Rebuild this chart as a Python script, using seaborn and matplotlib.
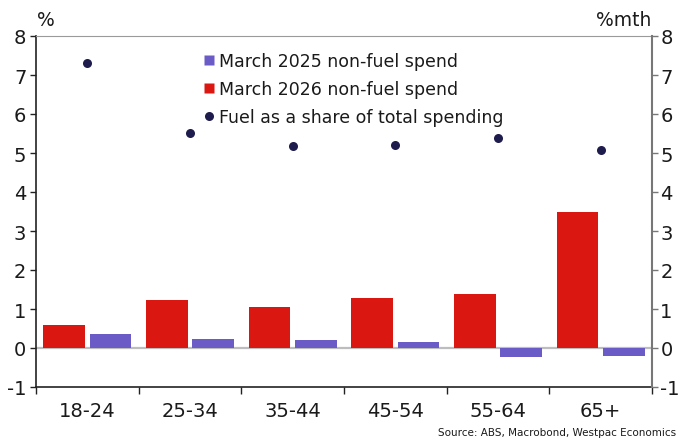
import matplotlib
matplotlib.use("Agg")
import matplotlib.pyplot as plt
from matplotlib.lines import Line2D
import seaborn as sns
import pandas as pd
import numpy as np

# Age groups and series values
age_groups = ["18-24", "25-34", "35-44", "45-54", "55-64", "65+"]
spend_2025 = [0.35, 0.23, 0.20, 0.16, -0.23, -0.21]
spend_2026 = [0.58, 1.23, 1.04, 1.29, 1.39, 3.49]
fuel_share = [7.31, 5.51, 5.19, 5.21, 5.38, 5.08]

label_2025 = "March 2025 non-fuel spend"
label_2026 = "March 2026 non-fuel spend"
label_fuel = "Fuel as a share of total spending"

y_ticks = list(range(-1, 9))

RED = "#DA1710"
PURPLE = "#6A5BC6"
NAVY = "#1E1B4D"

sns.set_theme(style="white")
plt.rcParams["font.family"] = ["DejaVu Sans"]

bars = pd.DataFrame({
    "age": age_groups * 2,
    "value": spend_2026 + spend_2025,
    "series": [label_2026] * len(age_groups) + [label_2025] * len(age_groups),
})

fig = plt.figure(figsize=(6.81, 4.39), dpi=100)
ax = fig.add_axes([36 / 681, 1 - 388 / 439, (652 - 36) / 681, (388 - 37) / 439])

ax.axhline(0, color="#bdbdbd", lw=1.6, zorder=0)

sns.barplot(data=bars, x="age", y="value", hue="series",
            hue_order=[label_2026, label_2025], order=age_groups,
            palette=[RED, PURPLE], saturation=1, width=0.9, gap=0.1,
            linewidth=0, ax=ax, legend=False, zorder=2)

sns.stripplot(x=age_groups, y=fuel_share, order=age_groups, jitter=False,
              color=NAVY, size=6.5, ax=ax, zorder=3)

ax.set_xlim(-0.5, len(age_groups) - 0.5)
ax.set_ylim(-1, 8)
ax.set_xlabel("")
ax.set_ylabel("")

# Category labels centred, tick marks on the category boundaries
ax.set_xticks(np.arange(-0.5, len(age_groups), 1.0))
ax.set_xticklabels([])
ax.set_xticks(np.arange(len(age_groups)), minor=True)
ax.set_xticklabels(age_groups, minor=True)
ax.tick_params(axis="x", which="major", direction="out", length=5, width=1,
               color="#222222", bottom=True)
ax.tick_params(axis="x", which="minor", length=0, pad=10, labelsize=14,
               labelcolor="#1a1a1a")

ax.set_yticks(y_ticks)
ax.set_yticklabels([str(t) for t in y_ticks])
ax.tick_params(axis="y", direction="out", length=4, width=1, color="#222222",
               left=True, labelsize=14, labelcolor="#1a1a1a", pad=3)

for side in ["left", "bottom"]:
    ax.spines[side].set_color("#222222")
    ax.spines[side].set_linewidth(1.2)
ax.spines["top"].set_color("#9a9a9a")
ax.spines["top"].set_linewidth(0.8)
ax.spines["right"].set_visible(False)

ax2 = ax.twinx()
ax2.set_ylim(-1, 8)
ax2.set_yticks(y_ticks)
ax2.set_yticklabels([str(t) for t in y_ticks])
ax2.tick_params(axis="y", direction="out", length=4, width=1, color="#777777",
                right=True, labelsize=14, labelcolor="#1a1a1a", pad=2)
for side in ["left", "top", "bottom"]:
    ax2.spines[side].set_visible(False)
ax2.spines["right"].set_color("#777777")
ax2.spines["right"].set_linewidth(1.5)

handles = [
    Line2D([0], [0], marker="s", color="none", markerfacecolor=PURPLE,
           markeredgecolor="none", markersize=6.5, label=label_2025),
    Line2D([0], [0], marker="s", color="none", markerfacecolor=RED,
           markeredgecolor="none", markersize=6.5, label=label_2026),
    Line2D([0], [0], marker="o", color="none", markerfacecolor=NAVY,
           markeredgecolor="none", markersize=6.5, label=label_fuel),
]
ax.legend(handles=handles, loc="upper left", bbox_to_anchor=(0.252, 0.99),
          frameon=False, fontsize=12.5, handlelength=0.6, handletextpad=0.3,
          labelspacing=0.6, borderaxespad=0.3, labelcolor="#1a1a1a")

fig.text(37 / 681, 1 - 20 / 439, "%", fontsize=13.5, color="#1a1a1a",
         ha="left", va="center")
fig.text(651 / 681, 1 - 20 / 439, "%mth", fontsize=13.5, color="#1a1a1a",
         ha="right", va="center")
fig.text(676 / 681, 1 - 433 / 439, "Source: ABS, Macrobond, Westpac Economics",
         fontsize=7.5, color="#1a1a1a", ha="right", va="center")

fig.savefig("out.png", dpi=100)
